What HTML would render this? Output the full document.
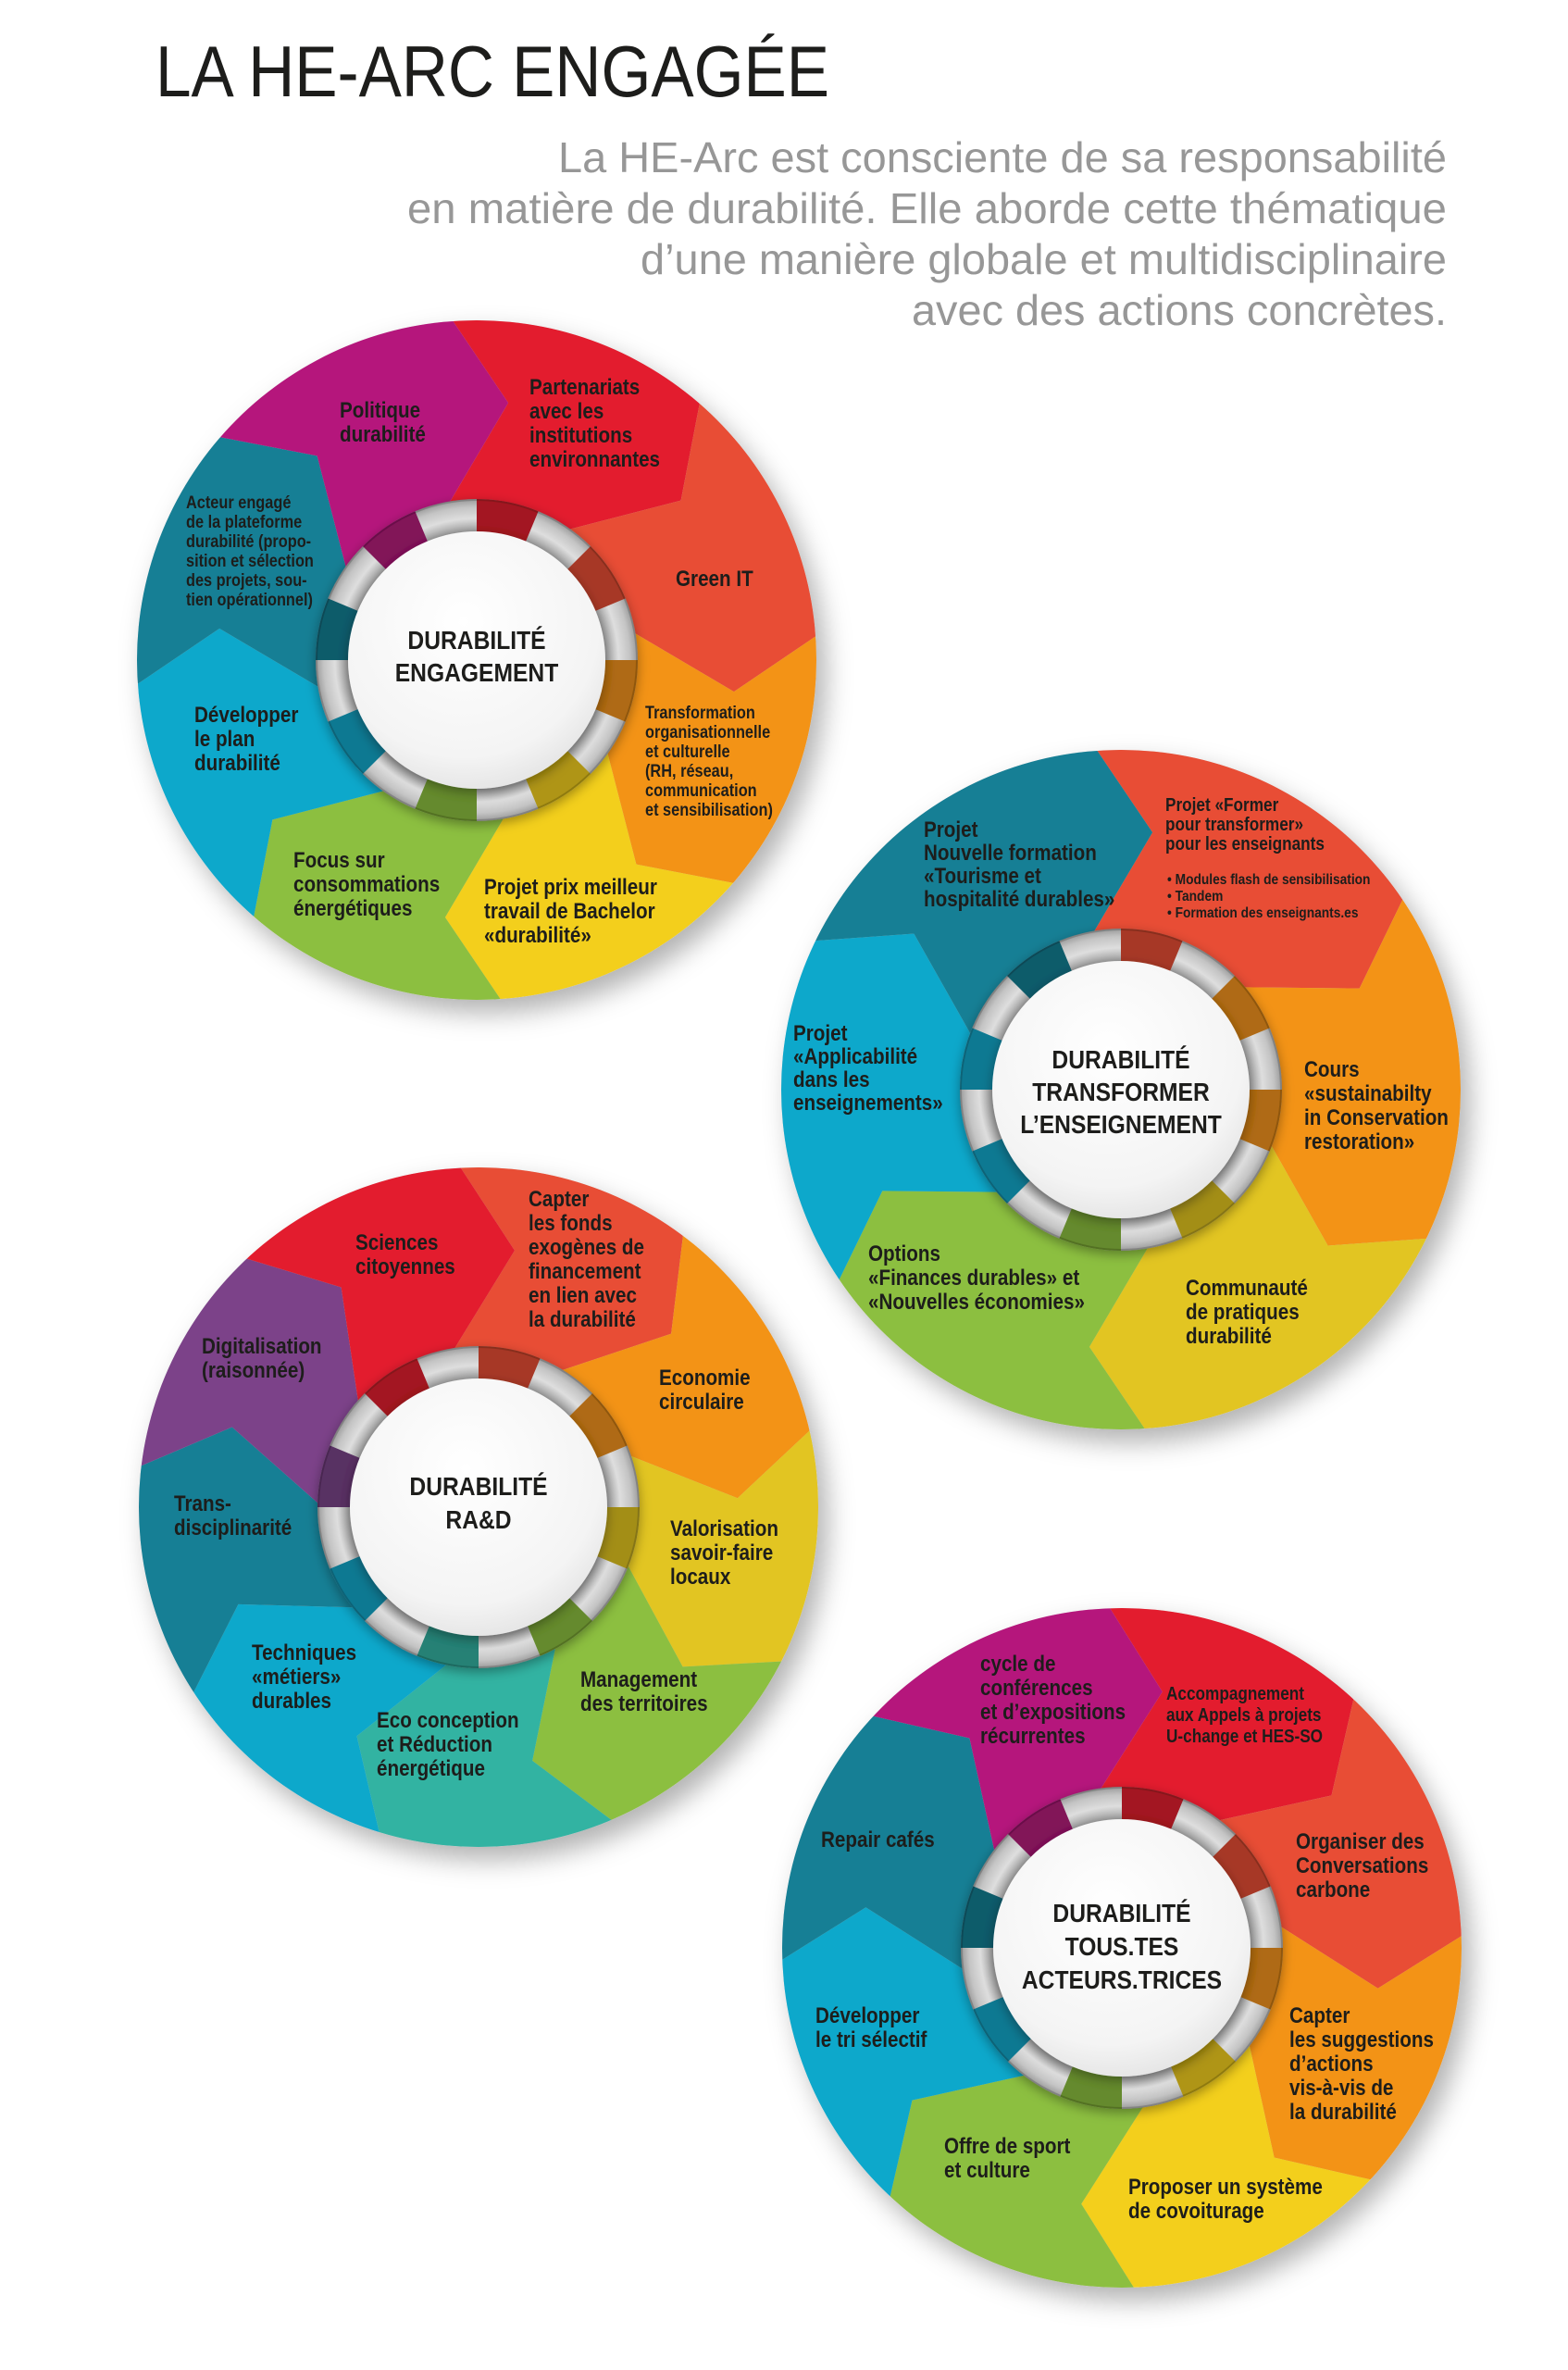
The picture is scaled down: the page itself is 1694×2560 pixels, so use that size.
<!DOCTYPE html>
<html><head><meta charset="utf-8">
<style>
html,body{margin:0;padding:0;background:#fff;}
svg{display:block;}
.l{font-family:"Liberation Sans",Arial,sans-serif;font-weight:bold;fill:#1d1d1b;}
.c{font-family:"Liberation Sans",Arial,sans-serif;font-weight:bold;fill:#1d1d1b;text-anchor:middle;}
</style></head>
<body>
<svg id="s" width="1694" height="2560" viewBox="0 0 1694 2560" xmlns="http://www.w3.org/2000/svg">
<defs>
<filter id="sh" x="-20%" y="-20%" width="150%" height="150%">
<feDropShadow dx="10" dy="14" stdDeviation="14" flood-color="#000" flood-opacity="0.3"/>
</filter>
<filter id="sh2" x="-20%" y="-20%" width="140%" height="140%">
<feDropShadow dx="0" dy="4" stdDeviation="6" flood-color="#000" flood-opacity="0.35"/>
</filter>
<radialGradient id="wg" cx="0.45" cy="0.35" r="0.75">
<stop offset="0" stop-color="#ffffff"/><stop offset="0.7" stop-color="#f4f4f4"/><stop offset="1" stop-color="#dcdcdc"/>
</radialGradient>
<radialGradient id="gg" cx="0.5" cy="0.5" r="0.5">
<stop offset="0.78" stop-color="#8e8e8e"/><stop offset="0.88" stop-color="#dedede"/><stop offset="0.95" stop-color="#c4c4c4"/><stop offset="1" stop-color="#9a9a9a"/>
</radialGradient>
</defs>
<rect width="1694" height="2560" fill="#fff"/>
<g id="wheels"></g>

<!-- Header -->
<text x="168" y="104" font-family="Liberation Sans, Arial, sans-serif" font-size="78" fill="#1d1d1b" textLength="728" lengthAdjust="spacingAndGlyphs">LA HE-ARC ENGAGÉE</text>
<g font-family="Liberation Sans, Arial, sans-serif" font-size="46" fill="#979797">
<text x="603" y="186" textLength="960" lengthAdjust="spacingAndGlyphs">La HE-Arc est consciente de sa responsabilité</text>
<text x="440" y="241" textLength="1123" lengthAdjust="spacingAndGlyphs">en matière de durabilité. Elle aborde cette thématique</text>
<text x="692" y="296" textLength="871" lengthAdjust="spacingAndGlyphs">d’une manière globale et multidisciplinaire</text>
<text x="985" y="351" textLength="578" lengthAdjust="spacingAndGlyphs">avec des actions concrètes.</text>
</g>

<!-- Wheel 1 labels -->
<text class="l" font-size="24" transform="translate(367,451) scale(0.86,1)"><tspan x="0">Politique</tspan><tspan x="0" dy="26">durabilité</tspan></text>
<text class="l" font-size="24" transform="translate(572,426) scale(0.86,1)"><tspan x="0">Partenariats</tspan><tspan x="0" dy="26">avec les</tspan><tspan x="0" dy="26">institutions</tspan><tspan x="0" dy="26">environnantes</tspan></text>
<text class="l" font-size="19" transform="translate(201,549) scale(0.86,1)"><tspan x="0">Acteur engagé</tspan><tspan x="0" dy="21">de la plateforme</tspan><tspan x="0" dy="21">durabilité (propo-</tspan><tspan x="0" dy="21">sition et sélection</tspan><tspan x="0" dy="21">des projets, sou-</tspan><tspan x="0" dy="21">tien opérationnel)</tspan></text>
<text class="l" font-size="24" transform="translate(730,633) scale(0.86,1)">Green IT</text>
<text class="l" font-size="19" transform="translate(697,776) scale(0.86,1)"><tspan x="0">Transformation</tspan><tspan x="0" dy="21">organisationnelle</tspan><tspan x="0" dy="21">et culturelle</tspan><tspan x="0" dy="21">(RH, réseau,</tspan><tspan x="0" dy="21">communication</tspan><tspan x="0" dy="21">et sensibilisation)</tspan></text>
<text class="l" font-size="24" transform="translate(210,780) scale(0.86,1)"><tspan x="0">Développer</tspan><tspan x="0" dy="26">le plan</tspan><tspan x="0" dy="26">durabilité</tspan></text>
<text class="l" font-size="24" transform="translate(317,937) scale(0.86,1)"><tspan x="0">Focus sur</tspan><tspan x="0" dy="26">consommations</tspan><tspan x="0" dy="26">énergétiques</tspan></text>
<text class="l" font-size="24" transform="translate(523,966) scale(0.86,1)"><tspan x="0">Projet prix meilleur</tspan><tspan x="0" dy="26">travail de Bachelor</tspan><tspan x="0" dy="26">«durabilité»</tspan></text>
<text class="c" font-size="28" transform="translate(515,701) scale(0.88,1)"><tspan x="0">DURABILITÉ</tspan><tspan x="0" dy="35">ENGAGEMENT</tspan></text>

<!-- Wheel 2 labels -->
<text class="l" font-size="24" transform="translate(998,904) scale(0.86,1)"><tspan x="0">Projet</tspan><tspan x="0" dy="25">Nouvelle formation</tspan><tspan x="0" dy="25">«Tourisme et</tspan><tspan x="0" dy="25">hospitalité durables»</tspan></text>
<text class="l" font-size="20" transform="translate(1259,876) scale(0.86,1)"><tspan x="0">Projet «Former</tspan><tspan x="0" dy="21">pour transformer»</tspan><tspan x="0" dy="21">pour les enseignants</tspan></text>
<text class="l" font-size="16" transform="translate(1261,955) scale(0.86,1)"><tspan x="0">• Modules flash de sensibilisation</tspan><tspan x="0" dy="18">• Tandem</tspan><tspan x="0" dy="18">• Formation des enseignants.es</tspan></text>
<text class="l" font-size="24" transform="translate(857,1124) scale(0.86,1)"><tspan x="0">Projet</tspan><tspan x="0" dy="25">«Applicabilité</tspan><tspan x="0" dy="25">dans les</tspan><tspan x="0" dy="25">enseignements»</tspan></text>
<text class="l" font-size="24" transform="translate(1409,1163) scale(0.86,1)"><tspan x="0">Cours</tspan><tspan x="0" dy="26">«sustainabilty</tspan><tspan x="0" dy="26">in Conservation</tspan><tspan x="0" dy="26">restoration»</tspan></text>
<text class="l" font-size="24" transform="translate(1281,1399) scale(0.86,1)"><tspan x="0">Communauté</tspan><tspan x="0" dy="26">de pratiques</tspan><tspan x="0" dy="26">durabilité</tspan></text>
<text class="l" font-size="24" transform="translate(938,1362) scale(0.86,1)"><tspan x="0">Options</tspan><tspan x="0" dy="26">«Finances durables» et</tspan><tspan x="0" dy="26">«Nouvelles économies»</tspan></text>
<text class="c" font-size="28" transform="translate(1211,1154) scale(0.88,1)"><tspan x="0">DURABILITÉ</tspan><tspan x="0" dy="35">TRANSFORMER</tspan><tspan x="0" dy="35">L’ENSEIGNEMENT</tspan></text>

<!-- Wheel 3 labels -->
<text class="l" font-size="24" transform="translate(384,1350) scale(0.86,1)"><tspan x="0">Sciences</tspan><tspan x="0" dy="26">citoyennes</tspan></text>
<text class="l" font-size="24" transform="translate(571,1303) scale(0.86,1)"><tspan x="0">Capter</tspan><tspan x="0" dy="26">les fonds</tspan><tspan x="0" dy="26">exogènes de</tspan><tspan x="0" dy="26">financement</tspan><tspan x="0" dy="26">en lien avec</tspan><tspan x="0" dy="26">la durabilité</tspan></text>
<text class="l" font-size="24" transform="translate(218,1462) scale(0.86,1)"><tspan x="0">Digitalisation</tspan><tspan x="0" dy="26">(raisonnée)</tspan></text>
<text class="l" font-size="24" transform="translate(712,1496) scale(0.86,1)"><tspan x="0">Economie</tspan><tspan x="0" dy="26">circulaire</tspan></text>
<text class="l" font-size="24" transform="translate(188,1632) scale(0.86,1)"><tspan x="0">Trans-</tspan><tspan x="0" dy="26">disciplinarité</tspan></text>
<text class="l" font-size="24" transform="translate(724,1659) scale(0.86,1)"><tspan x="0">Valorisation</tspan><tspan x="0" dy="26">savoir-faire</tspan><tspan x="0" dy="26">locaux</tspan></text>
<text class="l" font-size="24" transform="translate(272,1793) scale(0.86,1)"><tspan x="0">Techniques</tspan><tspan x="0" dy="26">«métiers»</tspan><tspan x="0" dy="26">durables</tspan></text>
<text class="l" font-size="24" transform="translate(627,1822) scale(0.86,1)"><tspan x="0">Management</tspan><tspan x="0" dy="26">des territoires</tspan></text>
<text class="l" font-size="24" transform="translate(407,1866) scale(0.86,1)"><tspan x="0">Eco conception</tspan><tspan x="0" dy="26">et Réduction</tspan><tspan x="0" dy="26">énergétique</tspan></text>
<text class="c" font-size="28" transform="translate(517,1615) scale(0.88,1)"><tspan x="0">DURABILITÉ</tspan><tspan x="0" dy="36">RA&amp;D</tspan></text>

<!-- Wheel 4 labels -->
<text class="l" font-size="24" transform="translate(1059,1805) scale(0.86,1)"><tspan x="0">cycle de</tspan><tspan x="0" dy="26">conférences</tspan><tspan x="0" dy="26">et d’expositions</tspan><tspan x="0" dy="26">récurrentes</tspan></text>
<text class="l" font-size="20" transform="translate(1260,1836) scale(0.86,1)"><tspan x="0">Accompagnement</tspan><tspan x="0" dy="23">aux Appels à projets</tspan><tspan x="0" dy="23">U-change et HES-SO</tspan></text>
<text class="l" font-size="24" transform="translate(887,1995) scale(0.86,1)">Repair cafés</text>
<text class="l" font-size="24" transform="translate(1400,1997) scale(0.86,1)"><tspan x="0">Organiser des</tspan><tspan x="0" dy="26">Conversations</tspan><tspan x="0" dy="26">carbone</tspan></text>
<text class="l" font-size="24" transform="translate(881,2185) scale(0.86,1)"><tspan x="0">Développer</tspan><tspan x="0" dy="26">le tri sélectif</tspan></text>
<text class="l" font-size="24" transform="translate(1393,2185) scale(0.86,1)"><tspan x="0">Capter</tspan><tspan x="0" dy="26">les suggestions</tspan><tspan x="0" dy="26">d’actions</tspan><tspan x="0" dy="26">vis-à-vis de</tspan><tspan x="0" dy="26">la durabilité</tspan></text>
<text class="l" font-size="24" transform="translate(1020,2326) scale(0.86,1)"><tspan x="0">Offre de sport</tspan><tspan x="0" dy="26">et culture</tspan></text>
<text class="l" font-size="24" transform="translate(1219,2370) scale(0.86,1)"><tspan x="0">Proposer un système</tspan><tspan x="0" dy="26">de covoiturage</tspan></text>
<text class="c" font-size="28" transform="translate(1212,2076) scale(0.88,1)"><tspan x="0">DURABILITÉ</tspan><tspan x="0" dy="36">TOUS.TES</tspan><tspan x="0" dy="36">ACTEURS.TRICES</tspan></text>
</svg>
<script>
(function(){
var NS="http://www.w3.org/2000/svg";
var C={red:"#e31e2d",ored:"#e84e35",orange:"#f39319",yellow:"#f3cf1c",green:"#8cbf3f",cyan:"#10a8cb",teal:"#167f95",mag:"#b5197b",purple:"#7c4289",sea:"#33b3a2",yel2:"#e2c522"};
var wheels=[
 {cx:515,cy:713,start:-4,step:45,cols:["red","ored","orange","yellow","green","cyan","teal","mag"]},
 {cx:1211,cy:1177,start:-4,step:60,cols:["ored","orange","yel2","green","cyan","teal"]},
 {cx:517,cy:1628,start:-3,step:40,cols:["ored","orange","yel2","green","sea","cyan","teal","purple","red"]},
 {cx:1212,cy:2104,start:-2,step:45,cols:["red","ored","orange","yellow","green","cyan","teal","mag"]}
];
var R=367,RO=174,RI=139;
function P(w,r,a){var t=a*Math.PI/180;return [w.cx+r*Math.sin(t),w.cy-r*Math.cos(t)];}
function dark(h,f){var n=parseInt(h.slice(1),16);var r=(n>>16)&255,g=(n>>8)&255,b=n&255;
 return "rgb("+Math.round(r*f)+","+Math.round(g*f)+","+Math.round(b*f)+")";}
function el(t,at,par){var e=document.createElementNS(NS,t);for(var k in at)e.setAttribute(k,at[k]);par.appendChild(e);return e;}
function bnd(w,a){return [P(w,172,a-6),P(w,280,a+11),P(w,367,a),P(w,440,a-2)];}
var root=document.getElementById("wheels");
wheels.forEach(function(w,wi){
 var g=el("g",{filter:"url(#sh)"},root);
 var cp=el("clipPath",{id:"cp"+wi},root);
 el("circle",{cx:w.cx,cy:w.cy,r:R},cp);
 el("circle",{cx:w.cx,cy:w.cy,r:R,fill:"#ccc"},g);
 var gg=el("g",{"clip-path":"url(#cp"+wi+")"},g);
 var n=w.cols.length;
 for(var i=0;i<n;i++){
  var a0=w.start+i*w.step,a1=a0+w.step;
  var pts=[[w.cx,w.cy]].concat(bnd(w,a0));
  for(var a=a0;a<=a1;a+=3)pts.push(P(w,460,a));
  pts=pts.concat(bnd(w,a1).reverse());
  el("polygon",{points:pts.map(function(p){return p[0].toFixed(1)+","+p[1].toFixed(1);}).join(" "),fill:C[w.cols[i]]},gg);
 }
 // ring
 var rg=el("g",{filter:"url(#sh2)"},root);
 el("circle",{cx:w.cx,cy:w.cy,r:RO,fill:"url(#gg)"},rg);
 for(var k=0;k<16;k+=2){
  var b0=k*22.5,b1=b0+22.5,mid=(b0+b1)/2;
  var idx=Math.floor((((mid-w.start)%360)+360)%360/w.step);
  if(idx>=n)idx=n-1;
  var col=dark(C[w.cols[idx]],0.72);
  var p1=P(w,RO,b0),p2=P(w,RO,b1),p3=P(w,RI-2,b1),p4=P(w,RI-2,b0);
  var d="M"+p1+" A"+RO+","+RO+" 0 0 1 "+p2+" L"+p3+" A"+(RI-2)+","+(RI-2)+" 0 0 0 "+p4+"Z";
  el("path",{d:d,fill:col},rg);
 }
 el("circle",{cx:w.cx,cy:w.cy,r:RO-1,fill:"none",stroke:"rgba(0,0,0,0.18)","stroke-width":2},rg);
 el("circle",{cx:w.cx,cy:w.cy,r:RI,fill:"url(#wg)",filter:"url(#sh2)"},rg);
});
})();
</script>
</body></html>
